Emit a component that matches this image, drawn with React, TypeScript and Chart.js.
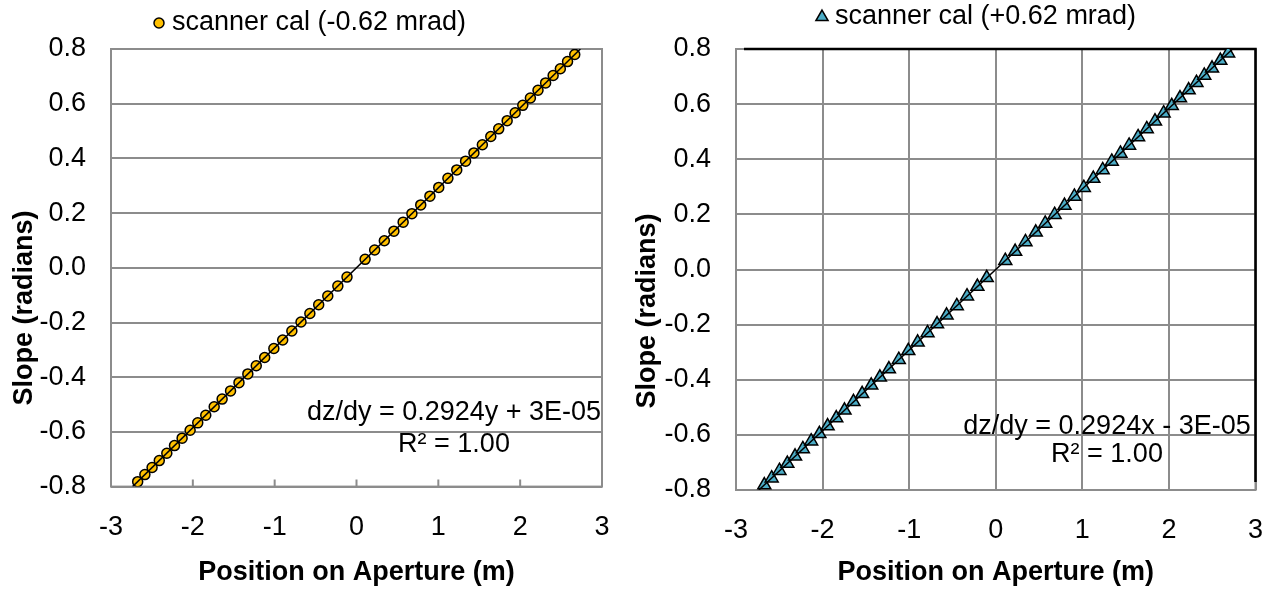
import React, { useEffect, useRef } from "react";
import { Chart, registerables } from "chart.js";

Chart.register(...registerables);

const FONT = "'Liberation Sans', Arial, sans-serif";
const GRID = "#8c8c8c";
const FS = 27;

// ---------- data: left panel (scanner cal -0.62 mrad) ----------
const leftX = [-2.674, -2.586, -2.498, -2.41, -2.318, -2.224, -2.131, -2.033, -1.94, -1.842, -1.739, -1.642, -1.539, -1.436, -1.328, -1.225, -1.122, -1.01, -0.902, -0.79, -0.678, -0.57, -0.462, -0.351, -0.228, -0.116, 0.105, 0.222, 0.34, 0.457, 0.57, 0.677, 0.785, 0.897, 1.005, 1.117, 1.225, 1.333, 1.435, 1.538, 1.641, 1.738, 1.841, 1.939, 2.032, 2.125, 2.218, 2.311, 2.403, 2.491, 2.579, 2.667];
const leftY = [-0.782, -0.756, -0.73, -0.705, -0.678, -0.65, -0.623, -0.594, -0.567, -0.539, -0.508, -0.48, -0.45, -0.42, -0.388, -0.358, -0.328, -0.295, -0.264, -0.231, -0.198, -0.167, -0.135, -0.103, -0.067, -0.034, 0.031, 0.065, 0.099, 0.134, 0.167, 0.198, 0.23, 0.262, 0.294, 0.327, 0.358, 0.39, 0.42, 0.45, 0.48, 0.508, 0.538, 0.567, 0.594, 0.621, 0.649, 0.676, 0.703, 0.728, 0.754, 0.78];
const leftTrendX = [-2.736, 2.736];
const leftTrendY = [-0.8, 0.8];
const leftLegend = "scanner cal (-0.62 mrad)";
const leftEquation = ["dz/dy = 0.2924y + 3E-05", "R² = 1.00"];

// ---------- data: right panel (scanner cal +0.62 mrad) ----------
const rightX = [-2.673, -2.588, -2.498, -2.407, -2.318, -2.228, -2.132, -2.037, -1.942, -1.842, -1.747, -1.643, -1.543, -1.438, -1.338, -1.234, -1.12, -1.01, -0.902, -0.788, -0.678, -0.568, -0.45, -0.332, -0.212, -0.104, 0.11, 0.224, 0.343, 0.462, 0.571, 0.68, 0.794, 0.908, 1.017, 1.127, 1.235, 1.34, 1.44, 1.54, 1.644, 1.744, 1.839, 1.939, 2.033, 2.128, 2.228, 2.318, 2.408, 2.498, 2.594, 2.684];
const rightY = [-0.782, -0.757, -0.73, -0.704, -0.678, -0.651, -0.623, -0.596, -0.568, -0.539, -0.511, -0.48, -0.451, -0.42, -0.391, -0.361, -0.327, -0.295, -0.264, -0.23, -0.198, -0.166, -0.132, -0.097, -0.062, -0.03, 0.032, 0.065, 0.1, 0.135, 0.167, 0.199, 0.232, 0.265, 0.297, 0.33, 0.361, 0.392, 0.421, 0.45, 0.481, 0.51, 0.538, 0.567, 0.594, 0.622, 0.651, 0.678, 0.704, 0.73, 0.758, 0.785];
const rightTrendX = [-2.736, 2.736];
const rightTrendY = [-0.8, 0.8];
const rightLegend = "scanner cal (+0.62 mrad)";
const rightEquation = ["dz/dy = 0.2924x - 3E-05", "R² = 1.00"];

// ---------- axes ----------
const xMin = -3, xMax = 3, xStep = 1;
const yMin = -0.8, yMax = 0.8, yStep = 0.2;
const xTitle = "Position on Aperture (m)";
const yTitle = "Slope (radians)";

type Panel = {
  left: number; width: number; height: number;
  yWidth: number; xHeight: number; padTop: number; padRight: number;
  xs: number[]; ys: number[]; tx: number[]; ty: number[];
  color: string; pointStyle: "circle" | "triangle"; radius: number; legendRadius: number;
  legend: string; legendX: number; legendY: number;
  eq: string[]; eqX: number; eqY: number[];
  yTitleX: number; yTitleY: number;
  vGrid: boolean; innerTicks: boolean; blackFrame: boolean;
};

const panels: Panel[] = [
  {
    left: 0, width: 618, height: 591, yWidth: 111, xHeight: 104.4, padTop: 49, padRight: 16,
    xs: leftX, ys: leftY, tx: leftTrendX, ty: leftTrendY,
    color: "#FFC000", pointStyle: "circle", radius: 5, legendRadius: 5,
    legend: leftLegend, legendX: 159, legendY: 23,
    eq: leftEquation, eqX: 454, eqY: [413, 445],
    yTitleX: 25, yTitleY: 308,
    vGrid: false, innerTicks: true, blackFrame: false,
  },
  {
    left: 630, width: 637, height: 591, yWidth: 106, xHeight: 101, padTop: 49, padRight: 11.5,
    xs: rightX, ys: rightY, tx: rightTrendX, ty: rightTrendY,
    color: "#4BACC6", pointStyle: "triangle", radius: 7.5, legendRadius: 7,
    legend: rightLegend, legendX: 822, legendY: 17,
    eq: rightEquation, eqX: 1107, eqY: [427, 455],
    yTitleX: 648, yTitleY: 311,
    vGrid: true, innerTicks: false, blackFrame: true,
  },
];

function drawMarker(ctx: CanvasRenderingContext2D, style: string, x: number, y: number, r: number, color: string) {
  ctx.save();
  ctx.fillStyle = color;
  ctx.strokeStyle = "#000";
  ctx.lineWidth = 1.5;
  ctx.beginPath();
  if (style === "circle") {
    ctx.arc(x, y, r, 0, Math.PI * 2);
  } else {
    const a = (2 * Math.PI) / 3;
    ctx.moveTo(x, y - r);
    ctx.lineTo(x + Math.sin(a) * r, y - Math.cos(a) * r);
    ctx.lineTo(x + Math.sin(2 * a) * r, y - Math.cos(2 * a) * r);
    ctx.closePath();
  }
  ctx.fill();
  ctx.stroke();
  ctx.restore();
}

function PanelChart({ p }: { p: Panel }) {
  const ref = useRef<HTMLCanvasElement | null>(null);
  useEffect(() => {
    if (!ref.current) return;
    const off = p.left;
    const framePlugin = {
      id: "frame" + off,
      beforeDatasetsDraw(chart: any) {
        const { ctx, chartArea: a, scales } = chart;
        ctx.save();
        ctx.strokeStyle = GRID;
        ctx.lineWidth = 2;
        ctx.strokeRect(a.left, a.top, a.right - a.left, a.bottom - a.top);
        if (p.innerTicks) {
          ctx.beginPath();
          for (let v = xMin + xStep; v < xMax; v += xStep) {
            const px = scales.x.getPixelForValue(v);
            ctx.moveTo(px, a.bottom);
            ctx.lineTo(px, a.bottom - 7);
          }
          ctx.stroke();
        }
        if (p.blackFrame) {
          ctx.strokeStyle = "#000";
          ctx.lineWidth = 2.5;
          ctx.beginPath();
          ctx.moveTo(a.left + 8, a.top);
          ctx.lineTo(a.right, a.top);
          ctx.lineTo(a.right, a.bottom - 8);
          ctx.stroke();
        }
        ctx.restore();
      },
      afterDraw(chart: any) {
        const { ctx } = chart;
        ctx.save();
        ctx.fillStyle = "#000";
        // y-axis title
        ctx.save();
        ctx.translate(p.yTitleX - off, p.yTitleY);
        ctx.rotate(-Math.PI / 2);
        ctx.font = `bold ${FS}px ${FONT}`;
        ctx.textAlign = "center";
        ctx.textBaseline = "middle";
        ctx.fillText(yTitle, 0, 0);
        ctx.restore();
        // legend
        drawMarker(ctx, p.pointStyle, p.legendX - off, p.legendY, p.legendRadius, p.color);
        ctx.font = `${FS}px ${FONT}`;
        ctx.textAlign = "left";
        ctx.textBaseline = "middle";
        ctx.fillStyle = "#000";
        ctx.fillText(p.legend, p.legendX - off + 13, p.legendY);
        // trendline equation
        ctx.textAlign = "center";
        p.eq.forEach((t, i) => ctx.fillText(t, p.eqX - off, p.eqY[i]));
        ctx.restore();
      },
    };

    const chart = new Chart(ref.current, {
      type: "scatter",
      data: {
        datasets: [
          {
            label: p.legend,
            data: p.xs.map((x, i) => ({ x, y: p.ys[i] })),
            pointStyle: p.pointStyle,
            pointRadius: p.radius,
            backgroundColor: p.color,
            borderColor: "#000",
            borderWidth: 1.5,
            showLine: false,
            order: 1,
          },
          {
            label: "trend",
            data: p.tx.map((x, i) => ({ x, y: p.ty[i] })),
            showLine: true,
            borderColor: "#000",
            borderWidth: 1.5,
            pointRadius: 0,
            fill: false,
            order: 0,
          },
        ],
      },
      options: {
        animation: false,
        responsive: false,
        maintainAspectRatio: false,
        layout: { padding: { left: 0, top: p.padTop, right: p.padRight, bottom: 0 } },
        plugins: { legend: { display: false }, tooltip: { enabled: false } },
        scales: {
          x: {
            type: "linear",
            min: xMin,
            max: xMax,
            afterFit: (s: any) => { s.height = p.xHeight; },
            ticks: {
              stepSize: xStep,
              autoSkip: false,
              maxRotation: 0,
              padding: 0.5,
              color: "#000",
              font: { family: FONT, size: FS },
              callback: (v: any) => String(Math.round(Number(v))),
            },
            grid: {
              display: true,
              drawOnChartArea: p.vGrid,
              color: GRID,
              lineWidth: 2,
              drawTicks: true,
              tickLength: 24,
              tickColor: "rgba(0,0,0,0)",
            },
            border: { display: false },
            title: {
              display: true,
              text: xTitle,
              color: "#000",
              font: { family: FONT, size: FS, weight: "bold" },
              padding: { top: 0, bottom: 1.8 },
            },
          },
          y: {
            type: "linear",
            min: yMin,
            max: yMax,
            afterFit: (s: any) => { s.width = p.yWidth; },
            ticks: {
              stepSize: yStep,
              padding: 25,
              color: "#000",
              font: { family: FONT, size: FS },
              callback: (v: any) => {
                const n = Number(v);
                return Math.abs(n) < 1e-9 ? "0.0" : n.toFixed(1);
              },
            },
            grid: { color: GRID, lineWidth: 2, drawTicks: false },
            border: { display: false },
          },
        },
      },
      plugins: [framePlugin],
    } as any);
    return () => chart.destroy();
  }, [p]);

  return (
    <canvas
      ref={ref}
      width={p.width}
      height={p.height}
      style={{ position: "absolute", left: p.left, top: 0, width: p.width, height: p.height }}
    />
  );
}

export default function App() {
  return (
    <div style={{ position: "absolute", left: 0, top: 0, width: 1267, height: 591, background: "#fff" }}>
      {panels.map((p) => (
        <PanelChart key={p.left} p={p} />
      ))}
    </div>
  );
}
